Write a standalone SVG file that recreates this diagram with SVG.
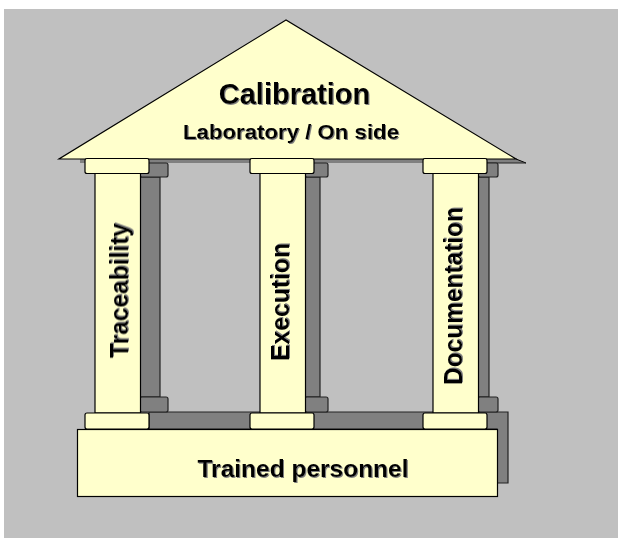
<svg xmlns="http://www.w3.org/2000/svg" width="618" height="538" viewBox="0 0 618 538">
<defs>
<filter id="ts" x="-10%" y="-10%" width="120%" height="120%"><feDropShadow dx="1" dy="1" stdDeviation="0.4" flood-color="#808080" flood-opacity="1"/></filter>
</defs>
<style>
.f{fill:#ffffcc;stroke:#000;stroke-width:1.2}
.s{fill:#808080;stroke:#222;stroke-width:1.2}
.t{font-family:"Liberation Sans",Arial,sans-serif;font-weight:700;fill:#000;text-anchor:middle;filter:url(#ts)}
</style>
<rect x="4" y="9" width="614" height="529" fill="#c0c0c0"/>
<g id="shadows">
<polygon points="80,159 516,159 526,163 80,163" fill="#808080"/>
<line x1="516" y1="159" x2="526" y2="163" stroke="#000" stroke-width="1"/>
<line x1="480" y1="163" x2="526" y2="163" stroke="#222" stroke-width="1"/>
<polygon class="s" points="149,412 508,412 508,483 497,483 497,429 149,429"/>
<rect class="s" x="140" y="177" width="20" height="220"/>
<rect class="s" x="305" y="177" width="15" height="220"/>
<rect class="s" x="478" y="177" width="11" height="220"/>
<rect class="s" x="140" y="163" width="28" height="14" rx="2"/>
<rect class="s" x="305" y="163" width="23" height="14" rx="2"/>
<rect class="s" x="478" y="163" width="20" height="14" rx="2"/>
<rect class="s" x="140" y="397" width="28" height="15" rx="2"/>
<rect class="s" x="305" y="397" width="23" height="15" rx="2"/>
<rect class="s" x="478" y="397" width="20" height="15" rx="2"/>
</g>
<g id="roof">
<polygon class="f" points="286,20 59,159 516,159"/>
<text class="t" x="294.500" y="104" font-size="29">Calibration</text>
<text class="t" x="291" y="139" font-size="21" textLength="216" lengthAdjust="spacingAndGlyphs">Laboratory / On side</text>
</g>
<g id="base">
<rect class="f" x="77.500" y="429.500" width="420" height="67"/>
<text class="t" x="303" y="477" font-size="24.500">Trained personnel</text>
</g>
<g id="pillar-traceability">
<rect class="f" x="95" y="173" width="45.500" height="240"/>
<rect class="f" x="85" y="158.500" width="64" height="15" rx="2"/>
<rect class="f" x="85" y="413" width="64" height="16" rx="2"/>
<text class="t" transform="translate(128,290.500) rotate(-90)" font-size="26.500" textLength="135" lengthAdjust="spacingAndGlyphs">Traceability</text>
</g>
<g id="pillar-execution">
<rect class="f" x="260" y="173" width="45.500" height="240"/>
<rect class="f" x="250" y="158.500" width="64" height="15" rx="2"/>
<rect class="f" x="250" y="413" width="64" height="16" rx="2"/>
<text class="t" transform="translate(289,302) rotate(-90)" font-size="26.500" textLength="118" lengthAdjust="spacingAndGlyphs">Execution</text>
</g>
<g id="pillar-documentation">
<rect class="f" x="433" y="173" width="45.500" height="240"/>
<rect class="f" x="423" y="158.500" width="64" height="15" rx="2"/>
<rect class="f" x="423" y="413" width="64" height="16" rx="2"/>
<text class="t" transform="translate(462,296) rotate(-90)" font-size="26.500" textLength="178" lengthAdjust="spacingAndGlyphs">Documentation</text>
</g>
</svg>
